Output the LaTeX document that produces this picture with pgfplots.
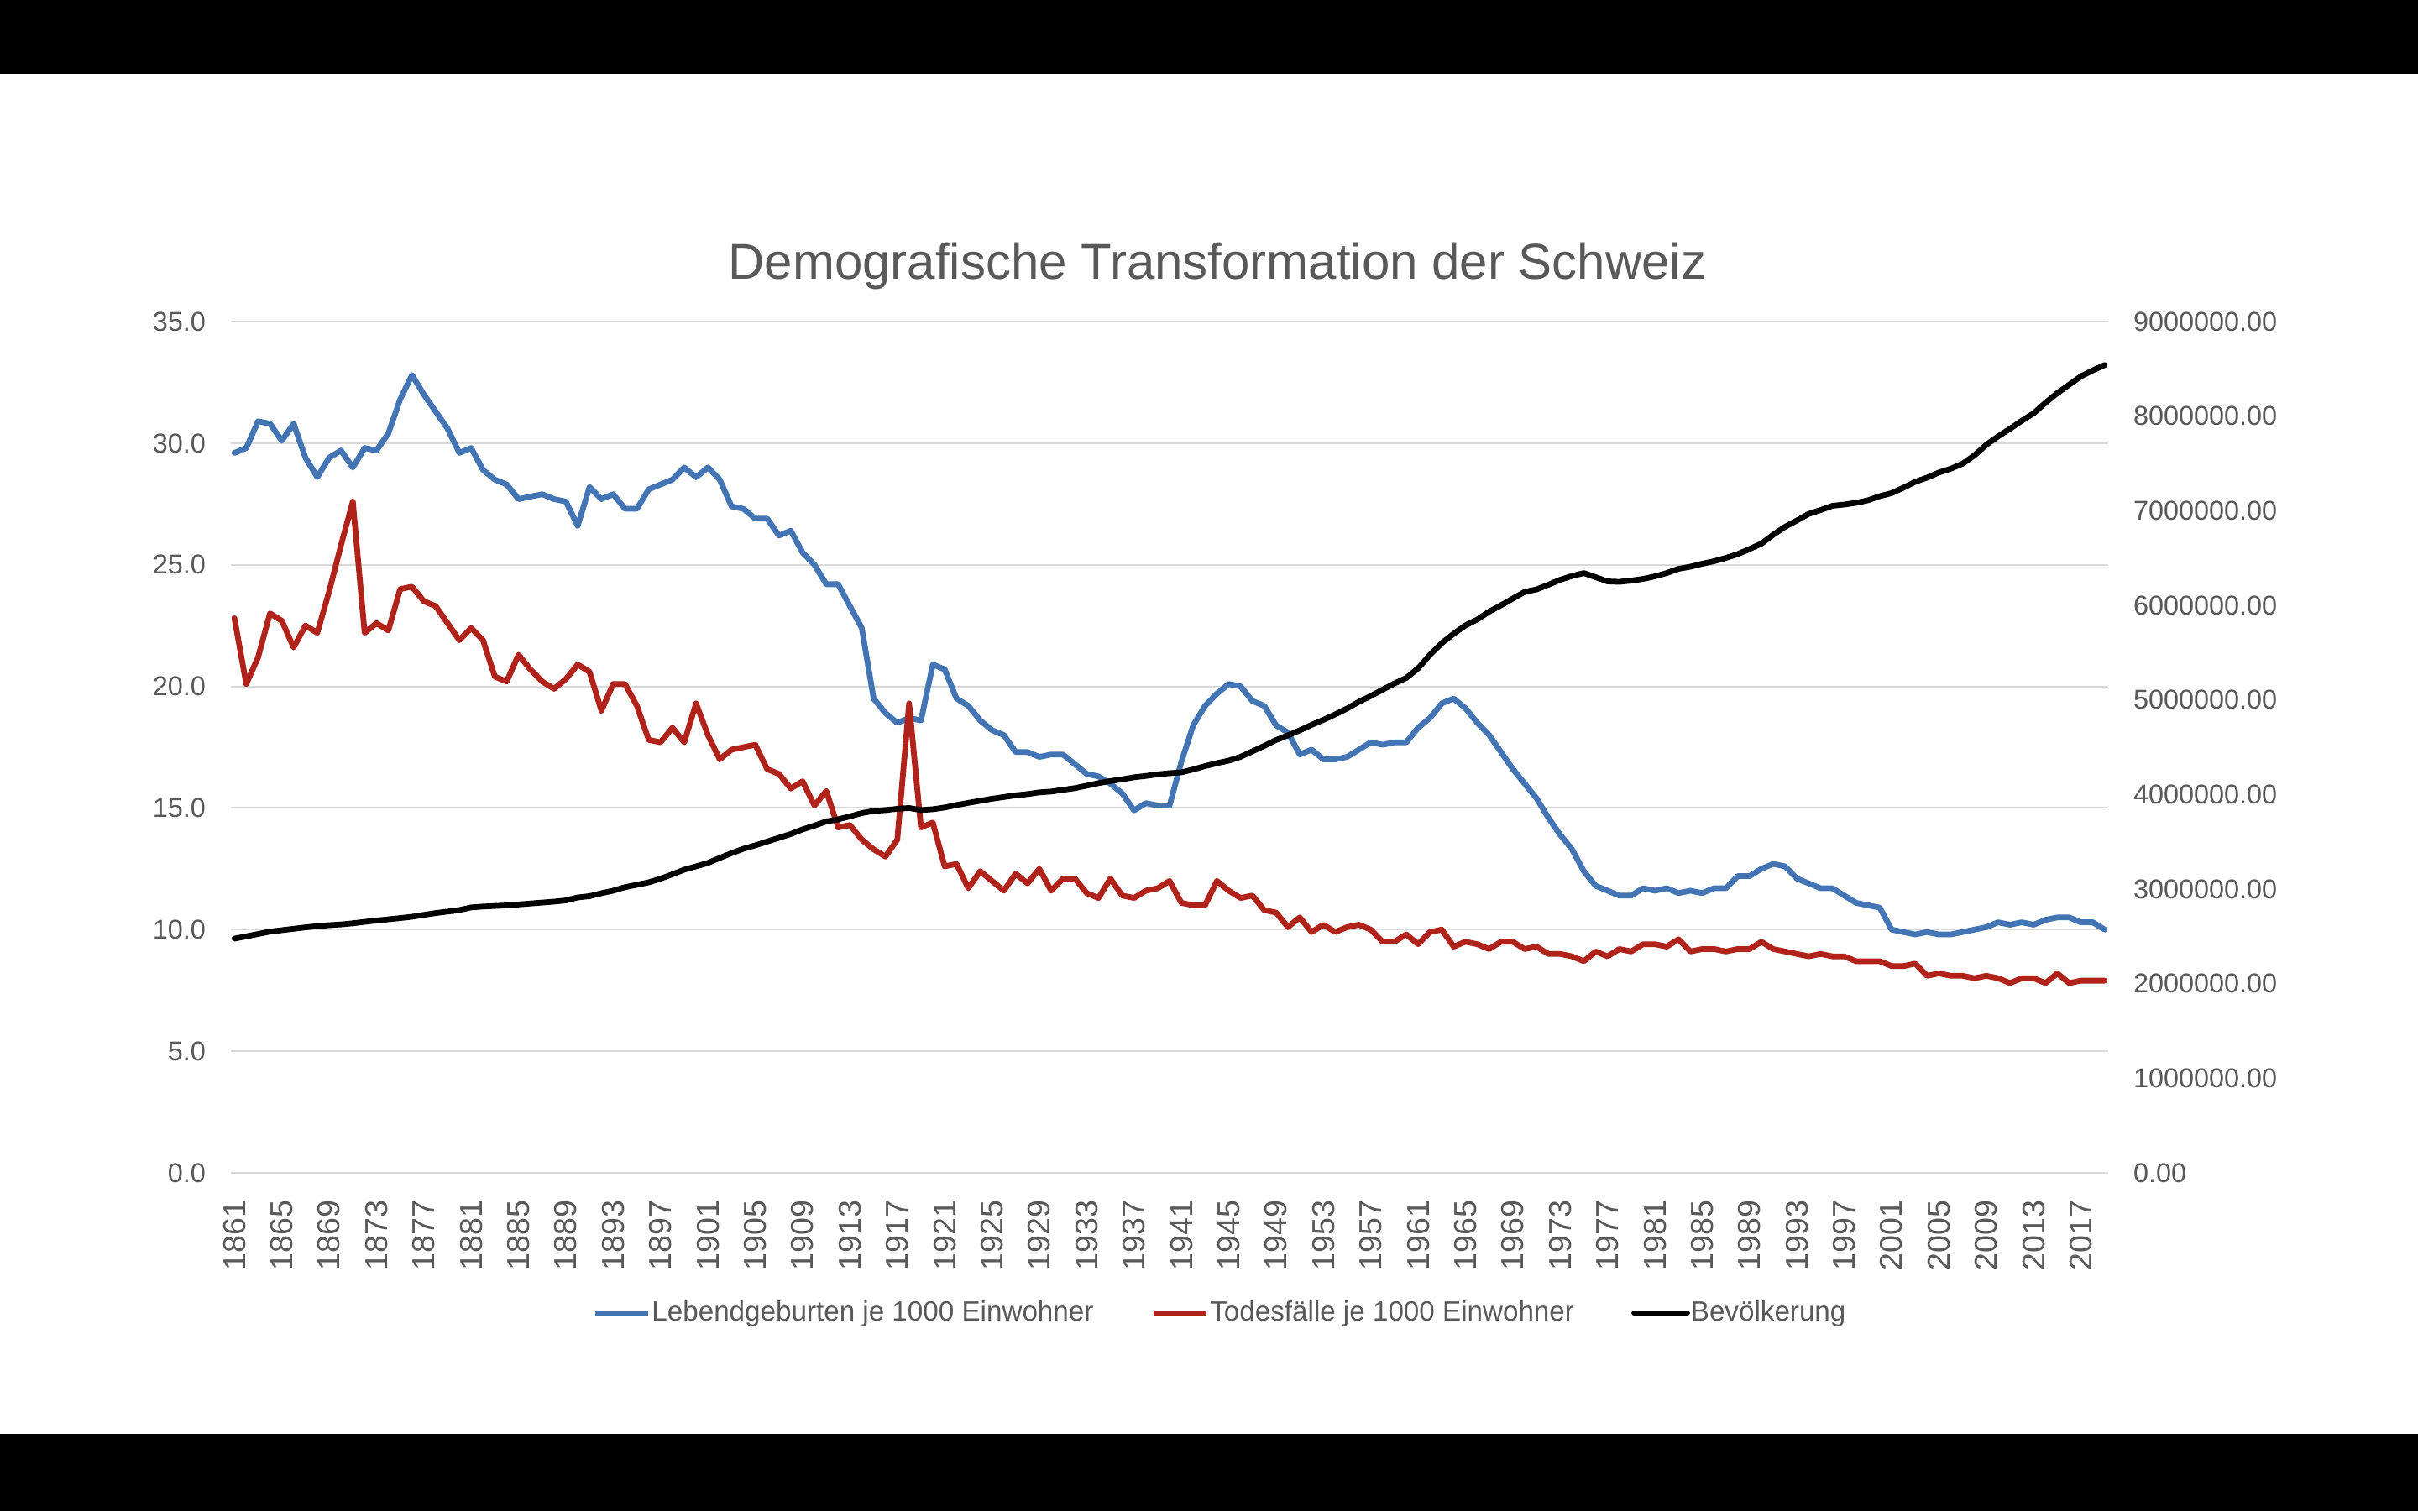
\documentclass[border=0pt]{standalone}
\usepackage{pgfplots}
\pgfplotsset{compat=1.18}
\usepackage{pgfplotstable}
\usepackage{fontspec}
\setmainfont{Liberation Sans}

\definecolor{txt}{HTML}{595959}
\definecolor{grd}{HTML}{D9D9D9}
\definecolor{cBirth}{HTML}{4374B3}
\definecolor{cDeath}{HTML}{B0231A}

% year, births per 1000, deaths per 1000, population
\pgfplotstableread{
year births deaths pop
1861 29.6 22.8 2476000
1862 29.8 20.1 2500000
1863 30.9 21.2 2525000
1864 30.8 23.0 2550000
1865 30.1 22.7 2565000
1866 30.8 21.6 2580000
1867 29.4 22.5 2595000
1868 28.6 22.2 2608000
1869 29.4 23.9 2618000
1870 29.7 25.8 2626000
1871 29.0 27.6 2638000
1872 29.8 22.2 2653000
1873 29.7 22.6 2667000
1874 30.4 22.3 2680000
1875 31.8 24.0 2693000
1876 32.8 24.1 2707000
1877 32.0 23.5 2727000
1878 31.3 23.3 2746000
1879 30.6 22.6 2762000
1880 29.6 21.9 2778000
1881 29.8 22.4 2806000
1882 28.9 21.9 2815000
1883 28.5 20.4 2821000
1884 28.3 20.2 2827000
1885 27.7 21.3 2837000
1886 27.8 20.7 2847000
1887 27.9 20.2 2857000
1888 27.7 19.9 2867000
1889 27.6 20.3 2880000
1890 26.6 20.9 2911000
1891 28.2 20.6 2925000
1892 27.7 19.0 2956000
1893 27.9 20.1 2983000
1894 27.3 20.1 3020000
1895 27.3 19.2 3045000
1896 28.1 17.8 3071000
1897 28.3 17.7 3110000
1898 28.5 18.3 3156000
1899 29.0 17.7 3205000
1900 28.6 19.3 3240000
1901 29.0 18.0 3276000
1902 28.5 17.0 3329000
1903 27.4 17.4 3380000
1904 27.3 17.5 3426000
1905 26.9 17.6 3462000
1906 26.9 16.6 3502000
1907 26.2 16.4 3542000
1908 26.4 15.8 3582000
1909 25.5 16.1 3631000
1910 25.0 15.1 3671000
1911 24.2 15.7 3715000
1912 24.2 14.2 3737000
1913 23.3 14.3 3768000
1914 22.4 13.7 3803000
1915 19.5 13.3 3826000
1916 18.9 13.0 3835000
1917 18.5 13.7 3848000
1918 18.7 19.3 3857000
1919 18.6 14.2 3835000
1920 20.9 14.4 3844000
1921 20.7 12.6 3862000
1922 19.5 12.7 3888000
1923 19.2 11.7 3911000
1924 18.6 12.4 3933000
1925 18.2 12.0 3955000
1926 18.0 11.6 3973000
1927 17.3 12.3 3991000
1928 17.3 11.9 4004000
1929 17.1 12.5 4022000
1930 17.2 11.6 4031000
1931 17.2 12.1 4049000
1932 16.8 12.1 4067000
1933 16.4 11.5 4093000
1934 16.3 11.3 4120000
1935 16.0 12.1 4142000
1936 15.6 11.4 4160000
1937 14.9 11.3 4182000
1938 15.2 11.6 4196000
1939 15.1 11.7 4213000
1940 15.1 12.0 4225000
1941 16.9 11.1 4234000
1942 18.4 11.0 4265000
1943 19.2 11.0 4300000
1944 19.7 12.0 4331000
1945 20.1 11.6 4358000
1946 20.0 11.3 4398000
1947 19.4 11.4 4456000
1948 19.2 10.8 4514000
1949 18.4 10.7 4576000
1950 18.1 10.1 4625000
1951 17.2 10.5 4678000
1952 17.4 9.9 4736000
1953 17.0 10.2 4789000
1954 17.0 9.9 4847000
1955 17.1 10.1 4909000
1956 17.4 10.2 4980000
1957 17.7 10.0 5041000
1958 17.6 9.5 5108000
1959 17.7 9.5 5174000
1960 17.7 9.8 5232000
1961 18.3 9.4 5334000
1962 18.7 9.9 5477000
1963 19.3 10.0 5601000
1964 19.5 9.3 5699000
1965 19.1 9.5 5788000
1966 18.5 9.4 5850000
1967 18.0 9.2 5933000
1968 17.3 9.5 6000000
1969 16.6 9.5 6071000
1970 16.0 9.2 6142000
1971 15.4 9.3 6168000
1972 14.6 9.0 6217000
1973 13.9 9.0 6270000
1974 13.3 8.9 6310000
1975 12.4 8.7 6341000
1976 11.8 9.1 6297000
1977 11.6 8.9 6253000
1978 11.4 9.2 6248000
1979 11.4 9.1 6261000
1980 11.7 9.4 6279000
1981 11.6 9.4 6306000
1982 11.7 9.3 6341000
1983 11.5 9.6 6386000
1984 11.6 9.1 6408000
1985 11.5 9.2 6439000
1986 11.7 9.2 6466000
1987 11.7 9.1 6501000
1988 12.2 9.2 6541000
1989 12.2 9.2 6595000
1990 12.5 9.5 6652000
1991 12.7 9.2 6746000
1992 12.6 9.1 6830000
1993 12.1 9.0 6897000
1994 11.9 8.9 6967000
1995 11.7 9.0 7007000
1996 11.7 8.9 7052000
1997 11.4 8.9 7065000
1998 11.1 8.7 7083000
1999 11.0 8.7 7110000
2000 10.9 8.7 7154000
2001 10.0 8.5 7186000
2002 9.9 8.5 7243000
2003 9.8 8.6 7306000
2004 9.9 8.1 7350000
2005 9.8 8.2 7404000
2006 9.8 8.1 7444000
2007 9.9 8.1 7497000
2008 10.0 8.0 7586000
2009 10.1 8.1 7697000
2010 10.3 8.0 7786000
2011 10.2 7.8 7866000
2012 10.3 8.0 7951000
2013 10.2 8.0 8030000
2014 10.4 7.8 8141000
2015 10.5 8.2 8243000
2016 10.5 7.8 8332000
2017 10.3 7.9 8421000
2018 10.3 7.9 8484000
2019 10.0 7.9 8541000
}\demo

\pgfplotsset{
  chartbase/.style={
    at={(68.75pt,100.75pt)}, anchor=south west,
    scale only axis, width=559pt, height=253.5pt,
    xmin=1860.7, xmax=2019.3,
    major tick length=0pt,
    tick label style={text=txt},
  },
  serie/.style={line width=1.7pt, line join=round, line cap=round},
}

\begin{document}
\begin{tikzpicture}
\useasboundingbox (0pt,0pt) rectangle (720pt,450pt);
\fill[white] (0pt,0pt) rectangle (720pt,450pt);
\fill[black] (0pt,428pt) rectangle (720pt,450pt);
\fill[black] (0pt,0pt) rectangle (720pt,23pt);

\node[anchor=base, text=txt, font=\fontsize{15}{18}\selectfont, inner sep=0pt]
  at (362.5pt,366.8pt) {Demografische Transformation der Schweiz};

% left axis: rates per 1000
\begin{axis}[
  chartbase,
  ymin=0, ymax=35,
  axis line style={draw=none},
  ytick={0,5,10,15,20,25,30,35},
  xtick={1861,1865,...,2017},
  ymajorgrids, grid style={grd, line width=0.5pt},
  yticklabel style={font=\fontsize{8.1}{10}\selectfont, inner sep=0pt,
    /pgf/number format/.cd, fixed, fixed zerofill, precision=1, assume math mode=true},
  yticklabel shift=7.3pt,
  xticklabel style={font=\fontsize{9.4}{11}\selectfont, rotate=90, anchor=east, inner sep=0pt,
    /pgf/number format/.cd, 1000 sep={}, assume math mode=true},
  xticklabel shift=8pt,
]
\addplot[cBirth, serie] table[x=year, y=births] {\demo};
\addplot[cDeath, serie] table[x=year, y=deaths] {\demo};
\end{axis}

% right axis: population
\begin{axis}[
  chartbase,
  ymin=0, ymax=9000000,
  hide x axis,
  axis y line*=right,
  y axis line style={draw=none},
  ytick={0,1000000,2000000,3000000,4000000,5000000,6000000,7000000,8000000,9000000},
  scaled y ticks=false,
  yticklabel style={font=\fontsize{8.1}{10}\selectfont, inner sep=0pt, anchor=west,
    /pgf/number format/.cd, fixed, fixed zerofill, precision=2, 1000 sep={}, assume math mode=true},
  yticklabel shift=7.3pt,
  legend columns=3,
  legend cell align=left,
  legend image code/.code={\draw[#1] (0pt,0pt) -- (15.75pt,0pt); \path (16pt,0pt);},
  legend style={draw=none, fill=none, text=txt, font=\fontsize{8.3}{10}\selectfont,
    at={(0.5264,-0.1647)}, anchor=center, inner sep=0pt, outer sep=0pt,
    nodes={inner sep=0pt}, column sep=0pt,
    /tikz/every even column/.append style={column sep=17pt}},
]
\addlegendimage{cBirth, line width=1.7pt}
\addlegendentry{Lebendgeburten je 1000 Einwohner}
\addlegendimage{cDeath, line width=1.7pt}
\addlegendentry{Todesfälle je 1000 Einwohner}
\addplot[black, serie] table[x=year, y=pop] {\demo};
\addlegendentry{Bevölkerung}
\end{axis}
\end{tikzpicture}
\end{document}
